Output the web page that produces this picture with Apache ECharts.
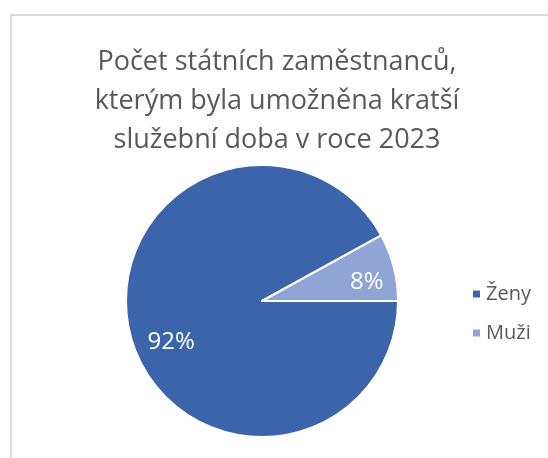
<!DOCTYPE html>
<html>
<head>
<meta charset="utf-8">
<script src="https://cdn.jsdelivr.net/npm/echarts@6/dist/echarts.min.js"></script>
<style>
  html, body { margin: 0; padding: 0; background: #fff; }
  #chart { width: 548px; height: 458px; }
</style>
</head>
<body>
<div id="chart"></div>
<script>
// Share of state employees granted shorter working time, 2023
const categories = ['Ženy', 'Muži'];
const shares = [92, 8];
const sliceColors = ['#3C64AB', '#8FA5D5'];
// label nudges so the inside labels sit where the original has them
const labelOffsets = [[-22, 23], [36, -1]];

const TEXT = '#595959';
const FONT = '"Open Sans", "Liberation Sans", sans-serif';

const chart = echarts.init(document.getElementById('chart'));

chart.setOption({
  animation: false,
  graphic: [{
    type: 'rect',
    shape: { x: 11, y: 15, width: 600, height: 500 },
    style: { fill: 'none', stroke: '#D9D9D9', lineWidth: 2 },
    silent: true,
  }],
  title: {
    text: 'Počet státních zaměstnanců,\nkterým byla umožněna kratší\nslužební doba v roce 2023',
    left: 272,
    textAlign: 'center',
    top: 38,
    textStyle: { color: TEXT, fontFamily: FONT, fontSize: 27, fontWeight: 'normal', lineHeight: 39 },
  },
  legend: {
    orient: 'vertical',
    left: 466,
    top: 279,
    itemWidth: 9,
    itemHeight: 9,
    itemGap: 19,
    icon: 'rect',
    textStyle: { color: TEXT, fontFamily: FONT, fontSize: 20 },
    data: categories,
  },
  series: [{
    type: 'pie',
    center: [262, 301],
    radius: 136,
    startAngle: 0,
    clockwise: true,
    itemStyle: { borderColor: '#fff', borderWidth: 2 },
    label: {
      show: true,
      position: 'inside',
      formatter: '{c}%',
      color: '#fff',
      fontFamily: FONT,
      fontSize: 24,
    },
    labelLine: { show: false },
    emphasis: { disabled: true },
    data: categories.map((name, i) => ({
      name,
      value: shares[i],
      itemStyle: { color: sliceColors[i] },
      label: { offset: labelOffsets[i] },
    })),
  }],
});
</script>
</body>
</html>
